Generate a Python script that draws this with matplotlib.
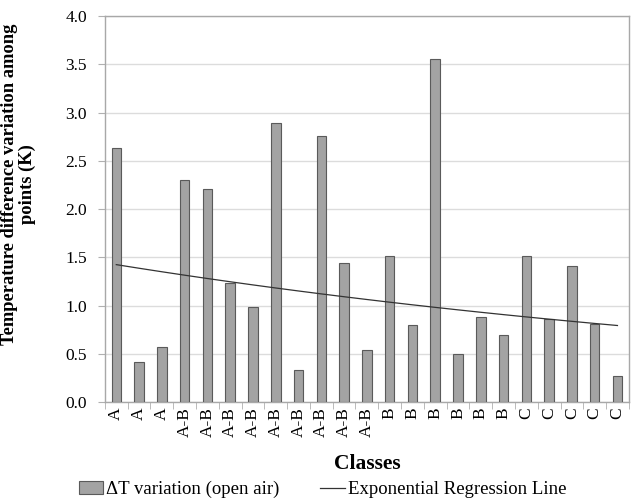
import numpy as np
import matplotlib
matplotlib.use("Agg")
import matplotlib.pyplot as plt
from matplotlib.lines import Line2D
from matplotlib.patches import Patch

classes = ["A", "A", "A", "A-B", "A-B", "A-B", "A-B", "A-B", "A-B", "A-B", "A-B", "A-B",
           "B", "B", "B", "B", "B", "B", "C", "C", "C", "C", "C"]
delta_t = [2.63, 0.41, 0.57, 2.30, 2.21, 1.23, 0.98, 2.89, 0.33, 2.76, 1.44, 0.54,
           1.51, 0.80, 3.56, 0.50, 0.88, 0.69, 1.51, 0.86, 1.41, 0.81, 0.27]
yticks = [0.0, 0.5, 1.0, 1.5, 2.0, 2.5, 3.0, 3.5, 4.0]

plt.rcParams['font.family'] = ['Liberation Serif', 'DejaVu Serif']

fig = plt.figure(figsize=(6.32, 5.04), dpi=100)
ax = fig.add_axes([0.166, 0.2024, 0.829, 0.7656])

x = np.arange(1, len(delta_t) + 1)
ax.bar(x, delta_t, width=0.42, color='#a3a3a3', edgecolor='#5a5a5a', linewidth=0.8, zorder=3)

# Exponential regression (least squares on log values)
b, a = np.polyfit(x, np.log(delta_t), 1)
ax.plot(x, np.exp(a + b * x), color='#333333', linewidth=0.9, zorder=4)

ax.set_xlim(0.5, len(delta_t) + 0.5)
ax.set_ylim(0, 4.0)
ax.set_yticks(yticks)
ax.set_yticklabels([f"{v:.1f}" for v in yticks], fontsize=12.5)
ax.set_xticks(x)
ax.set_xticklabels(classes, rotation=90, fontsize=12.5)
ax.set_xticks(np.arange(0.5, len(delta_t) + 1), minor=True)
ax.tick_params(axis='x', which='major', length=0, pad=4)
ax.tick_params(axis='x', which='minor', length=5, color='#b0b0b0', direction='out')
ax.tick_params(axis='y', length=5, color='#b0b0b0', direction='out', pad=8)

ax.yaxis.grid(True, color='#dcdcdc', linewidth=1.0, zorder=0)
for s in ax.spines.values():
    s.set_color('#a8a8a8')
    s.set_linewidth(1.0)

ax.set_ylabel("Temperature difference variation among\npoints (K)", fontsize=13.3,
              fontweight='bold', linespacing=1.05)
ax.yaxis.set_label_coords(-0.132, 0.565)
ax.set_xlabel("Classes", fontsize=15.5, fontweight='bold')
ax.xaxis.set_label_coords(0.5, -0.135)

handles = [Patch(facecolor='#a3a3a3', edgecolor='#5a5a5a', linewidth=0.8),
           Line2D([0], [0], color='#333333', linewidth=0.9)]
fig.legend(handles, ["ΔT variation (open air)", "Exponential Regression Line"],
           loc='lower center', bbox_to_anchor=(0.51, -0.022), ncol=2, frameon=False,
           fontsize=13.5, handlelength=1.3, handletextpad=0.15, columnspacing=2.2)

fig.savefig("out.png", dpi=100)
